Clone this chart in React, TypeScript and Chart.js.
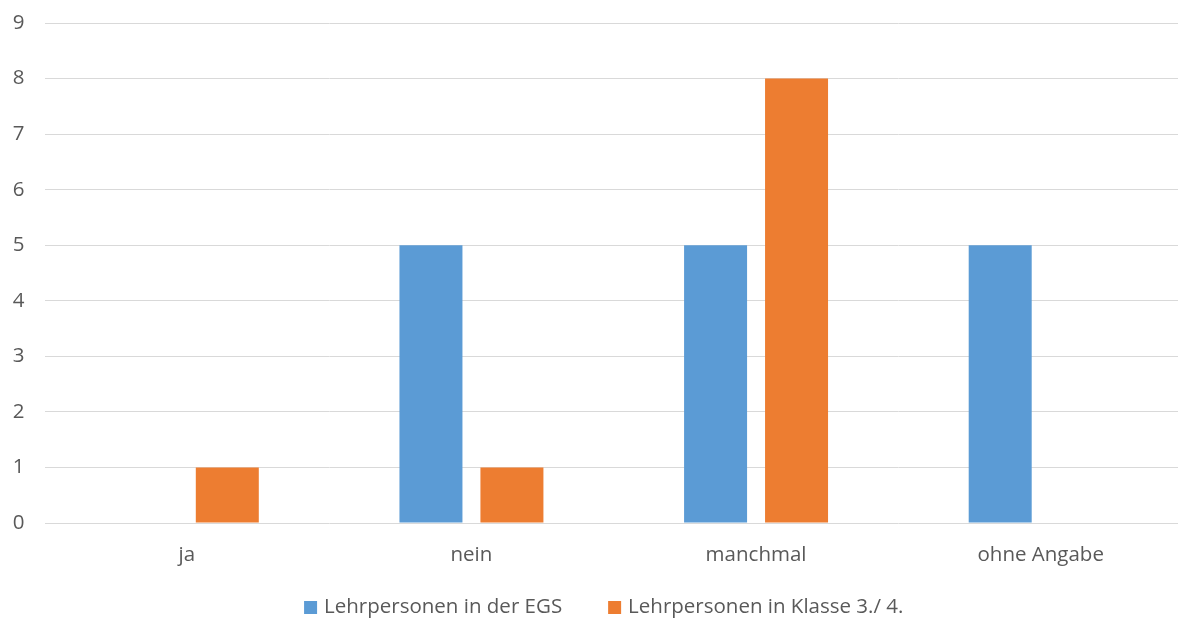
import React, { useEffect, useRef } from "react";
import { Chart, registerables } from "chart.js";

Chart.register(...registerables);

const categories = ["ja", "nein", "manchmal", "ohne Angabe"];
const egsValues = [0, 5, 5, 5];
const klasseValues = [1, 1, 8, 0];
const seriesNames = ["Lehrpersonen in der EGS", "Lehrpersonen in Klasse 3./ 4."];
const seriesColors = ["#5B9BD5", "#ED7D31"];

const FONT = "'Open Sans', 'Noto Sans', sans-serif";
const TEXT = "#595959";

const bottomLegend = {
  id: "bottomLegend",
  afterDraw(chart: any) {
    const ctx = chart.ctx;
    ctx.save();
    ctx.font = `20.5px ${FONT}`;
    const box = 13;
    const gapText = 7;
    const gapItem = 46;
    const widths = seriesNames.map((n) => ctx.measureText(n).width);
    const total = widths.reduce((a, w) => a + box + gapText + w, 0) + gapItem * (seriesNames.length - 1);
    const center = (chart.chartArea.left + chart.chartArea.right) / 2 - 10;
    let x = center - total / 2;
    const y = 607.5;
    seriesNames.forEach((n, i) => {
      ctx.fillStyle = seriesColors[i];
      ctx.fillRect(x, y - 6.5, box, box);
      ctx.fillStyle = TEXT;
      ctx.textBaseline = "middle";
      ctx.textAlign = "left";
      ctx.fillText(n, x + box + gapText, y);
      x += box + gapText + widths[i] + gapItem;
    });
    ctx.restore();
  },
};

export default function App() {
  const ref = useRef<HTMLCanvasElement | null>(null);
  useEffect(() => {
    document.body.style.margin = "0";
    document.body.style.overflow = "hidden";
    const chart = new Chart(ref.current!, {
      type: "bar",
      data: {
        labels: categories,
        datasets: [
          { label: seriesNames[0], data: egsValues, backgroundColor: seriesColors[0] },
          { label: seriesNames[1], data: klasseValues, backgroundColor: seriesColors[1] },
        ],
      },
      options: {
        animation: false,
        responsive: false,
        maintainAspectRatio: false,
        datasets: { bar: { categoryPercentage: 0.569, barPercentage: 0.778 } },
        layout: { padding: { top: 23, right: 0, left: 0, bottom: 0 } },
        plugins: {
          tooltip: { enabled: false },
          legend: { display: false },
        },
        scales: {
          x: {
            afterFit: (s: any) => { s.height = 96; s.paddingLeft = 0; s.paddingRight = 0; },
            grid: { display: false, drawTicks: false },
            border: { display: false },
            ticks: { color: TEXT, padding: 20, font: { family: FONT, size: 20.5 } },
          },
          y: {
            min: 0,
            max: 9,
            afterFit: (s: any) => { s.width = 44.5; s.paddingTop = 0; s.paddingBottom = 0; },
            grid: { color: "#D9D9D9", lineWidth: 1, drawTicks: false },
            border: { display: false },
            ticks: { stepSize: 1, color: TEXT, padding: 20, font: { family: FONT, size: 20.5 } },
          },
        },
      },
      plugins: [bottomLegend],
    });
    return () => chart.destroy();
  }, []);
  return (
    <div style={{ width: 1178, height: 619, overflow: "hidden", position: "relative" }}>
      <canvas ref={ref} width={1183} height={619} style={{ display: "block" }} />
    </div>
  );
}
